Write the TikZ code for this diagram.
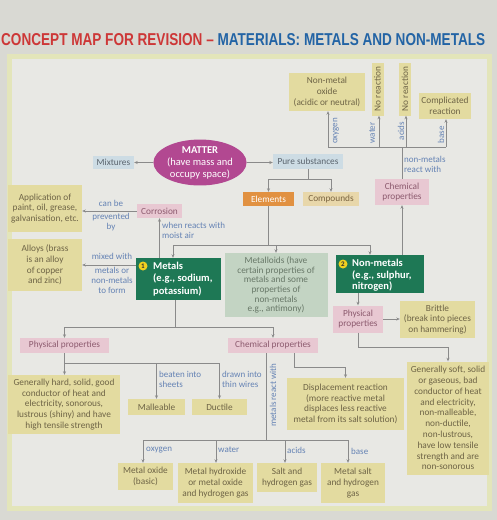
\documentclass[tikz,border=0pt]{standalone}
\usepackage{graphicx}
\usepackage{fontspec}
\setmainfont{Carlito}
\newfontfamily\titlef{Liberation Sans}
\usetikzlibrary{arrows.meta,shapes.geometric}
\definecolor{outerbg}{HTML}{D9D9D3}
\definecolor{panelborder}{HTML}{E3E5BA}
\definecolor{panelbg}{HTML}{E8E8E4}
\definecolor{khF}{HTML}{E3DBA0}
\definecolor{khT}{HTML}{6E6446}
\definecolor{pkF}{HTML}{E8C8D2}
\definecolor{pkT}{HTML}{8C5A6E}
\definecolor{blF}{HTML}{CDDCE4}
\definecolor{blT}{HTML}{5A646E}
\definecolor{lblC}{HTML}{6482B4}
\definecolor{lineC}{HTML}{8A8A8A}
\definecolor{grF}{HTML}{1E7855}
\definecolor{mdF}{HTML}{C3D4C3}
\definecolor{mdT}{HTML}{687868}
\definecolor{orF}{HTML}{E19141}
\definecolor{tanF}{HTML}{E8D7AA}
\definecolor{tanT}{HTML}{7A6440}
\definecolor{matterF}{HTML}{B24891}
\definecolor{tred}{HTML}{CD3737}
\definecolor{tblue}{HTML}{2364A5}
\definecolor{numY}{HTML}{F0D020}
\begin{document}
\begin{tikzpicture}[x=1pt,y=-1pt,
  bx/.style 2 args={minimum width=#1pt, minimum height=#2pt},
  base/.style={inner xsep=1pt, inner ysep=1pt, align=center, font=\fontsize{9.3}{10.8}\selectfont},
  kh/.style={base, fill=khF, text=khT},
  pk/.style={base, fill=pkF, text=pkT},
  bl/.style={base, fill=blF, text=blT},
  orb/.style={base, fill=orF, text=white},
  tanb/.style={base, fill=tanF, text=tanT},
  mdl/.style={base, fill=mdF, text=mdT, font=\fontsize{9.3}{9.6}\selectfont},
  grb/.style={fill=grF, inner sep=0pt},
  gtxt/.style={inner sep=0pt, align=left, text=white, font=\bfseries\fontsize{10.5}{12.8}\selectfont},
  numc/.style={circle, fill=numY, text=black!80, inner sep=0pt, minimum size=9pt, font=\bfseries\fontsize{7}{7}\selectfont},
  lbl/.style={inner sep=0pt, text=lblC, font=\fontsize{9}{10}\selectfont},
  ln/.style={draw=lineC, line width=0.7pt},
  arr/.style={ln, -{Stealth[length=3.5pt,width=3pt]}}
]
\useasboundingbox (0,0) rectangle (497,520);
\fill[outerbg] (0,0) rectangle (497,520);
\fill[panelborder] (7,54) rectangle (492,511);
\fill[panelbg] (12,59) rectangle (487,506);

% title
\node[anchor=base west, inner sep=0pt] (title) at (1,45)
  {\resizebox{484pt}{12pt}{\titlef\bfseries\color{tred}CONCEPT MAP FOR REVISION \textendash{} \color{tblue}MATERIALS: METALS AND NON-METALS}};

% top row (non-metal reactions)
\node[kh, bx={76}{38}] (nmo) at (327,92) {Non-metal\\oxide\\(acidic or neutral)};
\node[kh, bx={53}{12}, rotate=90] (nr1) at (377.5,89) {No reaction};
\node[kh, bx={53}{12}, rotate=90] (nr2) at (405,89) {No reaction};
\node[kh, bx={52}{26}] (cmpl) at (445,106) {Complicated\\reaction};
\node[lbl, rotate=90] (lox1) at (336,131) {oxygen};
\node[lbl, rotate=90] (lwa1) at (372,133) {water};
\node[lbl, rotate=90] (lac1) at (401,131) {acids};
\node[lbl, rotate=90] (lba1) at (441,135) {base};
\coordinate (t1) at (328,147);
\coordinate (t2) at (379,147);
\coordinate (t3) at (406,147);
\coordinate (t4) at (446,147);
\draw[ln] (t1) -- (t4);
\draw[arr] (t1) -- (t1 |- nmo.south);
\draw[arr] (t2) -- (t2 |- nr1.west);
\draw[arr] (t3) -- (t3 |- nr2.west);
\draw[arr] (t4) -- (t4 |- cmpl.south);

\node[pk, bx={54}{26}] (cpn) at (402,192) {Chemical\\properties};
\draw[ln] (cpn.north) -- (cpn.north |- t1);
\node[lbl, anchor=west, align=left] (lnmr) at (404,164.5) {non-metals\\react with};

% matter
\node[ellipse, fill=matterF, minimum width=88pt, minimum height=41pt, inner sep=0pt, text=white, align=center, font=\fontsize{10.5}{12}\selectfont] (matter) at (200,162.5) {\textbf{MATTER}\\(have mass and\\occupy space)};
\node[bl, bx={41}{13}] (mix) at (113.5,162) {Mixtures};
\node[bl, bx={70}{15}] (pure) at (308,161) {Pure substances};
\draw[arr] (matter.west) -- (matter.west -| mix.east);
\draw[arr] (matter.east) -- (matter.east -| pure.west);

\node[orb, bx={51}{14}] (el) at (268.5,199) {Elements};
\node[tanb, bx={56}{14}] (cmp) at (331,199) {Compounds};
\coordinate (j2) at (308,179);
\draw[arr] (pure.south) -- (j2) -| (el.north);
\draw[arr] (j2) -| (cmp.north);

% metals / metalloids / non-metals
\node[grb, bx={85}{42}] (met) at (178.5,279) {};
\node[gtxt, anchor=west] (mett) at (153,279) {Metals\\(e.g., sodium,\\potassium)};
\node[numc] (n1) at (143,266) {1};
\node[mdl, bx={103}{64}] (mld) at (276,285) {Metalloids (have\\certain properties of\\metals and some\\properties of\\non-metals\\e.g., antimony)};
\node[grb, bx={88}{38}] (nm) at (380,274) {};
\node[gtxt, anchor=west, font=\bfseries\fontsize{10.5}{11.5}\selectfont] (nmt) at (352,275.5) {Non-metals\\(e.g., sulphur,\\nitrogen)};
\node[numc] (n2) at (343,264) {2};

\coordinate (j3) at (268.5,245);
\coordinate (mA) at (173,245);
\coordinate (nA) at (370,245);
\draw[ln] (el.south) -- (j3);
\draw[arr] (j3) -- (mA) -- (mA |- met.north);
\draw[arr] (mld.north |- j3) -- (mld.north);
\draw[arr] (j3) -- (nA) -- (nA |- nm.north);
\draw[arr] (nm.north -| cpn) -- (cpn.south);

% corrosion
\node[pk, bx={45}{14}] (cor) at (159.5,211) {Corrosion};
\draw[arr] (met.north -| cor) -- (cor.south);
\node[lbl, anchor=west, align=left] (lwr) at (162,230) {when reacts with\\moist air};
\node[kh, bx={74}{47}] (app) at (45,208.5) {Application of\\paint, oil, grease,\\galvanisation, etc.};
\draw[arr] (cor.west) -- (cor.west -| app.east);
\node[lbl] (lcan) at (111,203) {can be};
\node[lbl, align=center] (lprev) at (111,222) {prevented\\by};

% alloys
\node[kh, bx={74}{52}] (alloy) at (45,265) {Alloys (brass\\is an alloy\\of copper\\and zinc)};
\draw[arr] (met.west |- alloy) -- (alloy.east);
\node[lbl] (lmix) at (112,256) {mixed with};
\node[lbl, align=center] (lmet) at (112,280) {metals or\\non-metals\\to form};

% non-metal properties
\node[pk, bx={50}{27}] (ppn) at (358,319) {Physical\\properties};
\draw[arr] (nm.south -| ppn) -- (ppn.north);
\node[kh, bx={75}{37}] (brit) at (437.5,319.5) {Brittle\\(break into pieces\\on hammering)};
\draw[arr] (ppn.east) -- (ppn.east -| brit.west);
\node[kh, bx={82}{113}] (soft) at (448,418) {Generally soft, solid\\or gaseous, bad\\conductor of heat\\and electricity,\\non-malleable,\\non-ductile,\\non-lustrous,\\have low tensile\\strength and are\\non-sonorous};
\coordinate (j5) at (358,347);
\draw[arr] (ppn.south) -- (j5) -| (soft.north);

% metal properties
\node[pk, bx={89}{15}] (pp) at (64.5,345.5) {Physical properties};
\node[pk, bx={90}{15}] (cpm) at (273,345.5) {Chemical properties};
\coordinate (j6) at (175,327);
\draw[ln] (met.south -| j6) -- (j6);
\draw[arr] (j6) -| (pp.north);
\draw[arr] (j6) -| (cpm.north);

\node[kh, bx={112}{59}] (hard) at (64,404.5) {Generally hard, solid, good\\conductor of heat and\\electricity, sonorous,\\lustrous (shiny) and have\\high tensile strength};
\node[kh, bx={57}{16}] (mal) at (156.5,407) {Malleable};
\node[kh, bx={55}{16}] (duc) at (219.5,407) {Ductile};
\coordinate (j7) at (64.5,363);
\draw[ln] (pp.south) -- (j7);
\draw[arr] (j7) -- (j7 |- hard.north);
\draw[arr] (j7) -| (mal.north);
\draw[arr] (j7) -| (duc.north);
\node[lbl, anchor=north west, align=left] (lbeat) at (159,371) {beaten into\\sheets};
\node[lbl, anchor=north west, align=left] (ldraw) at (222,371) {drawn into\\thin wires};

\node[kh, bx={117}{52}] (disp) at (345.5,404) {Displacement reaction\\(more reactive metal\\displaces less reactive\\metal from its salt solution)};
\coordinate (j8) at (294,367);
\draw[arr] (cpm.south -| j8) -- (j8) -| (disp.north);

% metals react with
\coordinate (j9) at (266,440);
\draw[ln] (cpm.south -| j9) -- (j9);
\node[lbl, rotate=90] (lmr) at (273,395) {metals react with};
\coordinate (b1) at (143,440);
\coordinate (b2) at (216,440);
\coordinate (b3) at (285,440);
\coordinate (b4) at (348,440);
\draw[ln] (b1) -- (b4);
\node[kh, bx={55}{27}] (mox) at (145.5,476.5) {Metal oxide\\(basic)};
\node[kh, bx={75}{40}] (mhy) at (215.5,483) {Metal hydroxide\\or metal oxide\\and hydrogen gas};
\node[kh, bx={60}{29}] (salt) at (287,477.5) {Salt and\\hydrogen gas};
\node[kh, bx={64}{40}] (msalt) at (353,483) {Metal salt\\and hydrogen\\gas};
\draw[arr] (b1) -- (b1 |- mox.north);
\draw[arr] (b2) -- (b2 |- mhy.north);
\draw[arr] (b3) -- (b3 |- salt.north);
\draw[arr] (b4) -- (b4 |- msalt.north);
\node[lbl, anchor=west] (lox2) at (146,450) {oxygen};
\node[lbl, anchor=west] (lwa2) at (218,450) {water};
\node[lbl, anchor=west] (lac2) at (287,450) {acids};
\node[lbl, anchor=west] (lba2) at (351,451) {base};
\end{tikzpicture}
\end{document}
